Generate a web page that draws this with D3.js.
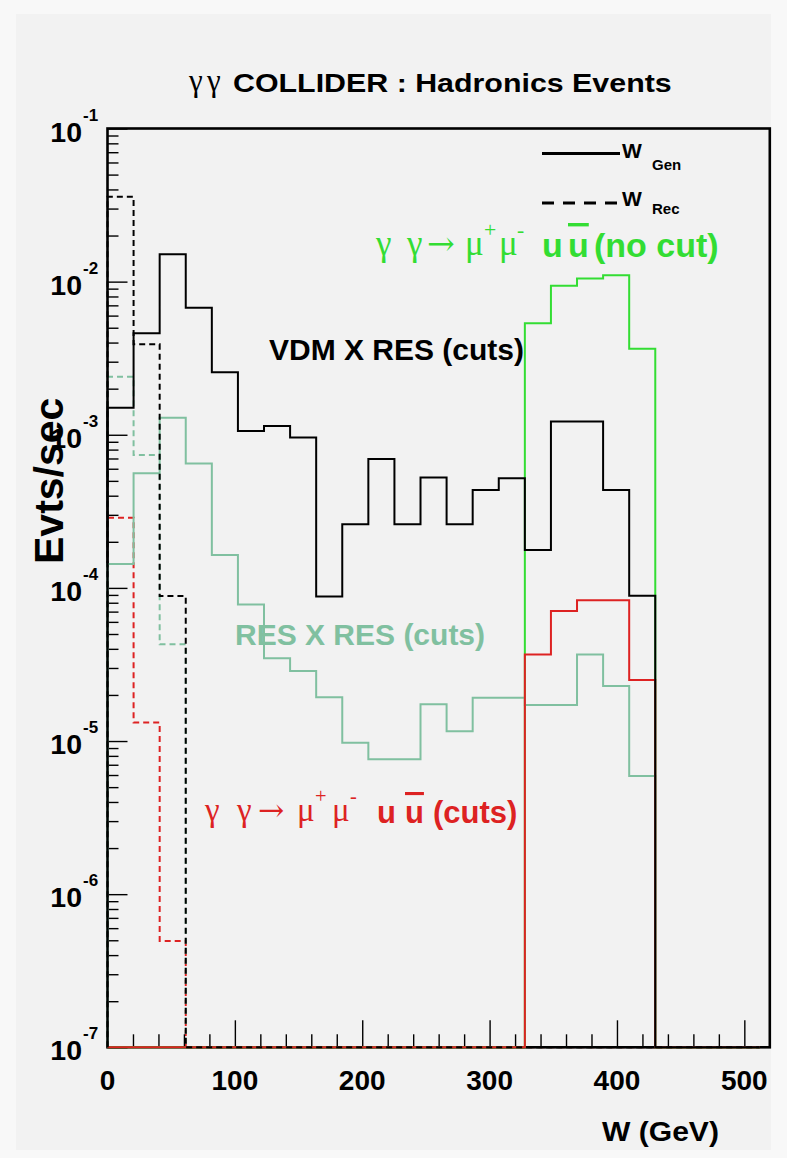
<!DOCTYPE html>
<html>
<head>
<meta charset="utf-8">
<script src="https://cdn.jsdelivr.net/npm/d3@7"></script>
<style>
  html, body { margin: 0; padding: 0; background: #f8f8f8; }
  svg { display: block; }
</style>
</head>
<body>
<svg id="chart" width="787" height="1158"></svg>
<script>
// Histogram bin edges in W (GeV): 25 bins over 0-512
const binEdges = [0, 20.48, 40.96, 61.44, 81.92, 102.4, 122.88, 143.36, 163.84, 184.32,
                  204.8, 225.28, 245.76, 266.24, 286.72, 307.2, 327.68, 348.16, 368.64,
                  389.12, 409.6, 430.08, 450.56, 471.04, 491.52, 512];

// Event rates (Evts/sec) per bin, generated W
const vdmResGen = [1.50e-3, 4.6e-3, 1.51e-2, 6.76e-3, 2.56e-3, 1.06e-3, 1.14e-3, 9.6e-4,
                   8.8e-5, 2.6e-4, 6.95e-4, 2.6e-4, 5.25e-4, 2.6e-4, 4.36e-4, 5.2e-4,
                   1.77e-4, 1.22e-3, 1.22e-3, 4.36e-4, 8.9e-5, 0, 0, 0, 0];
const resResGen = [1.43e-4, 5.6e-4, 1.29e-3, 6.5e-4, 1.64e-4, 7.8e-5, 3.47e-5, 2.87e-5,
                   1.93e-5, 9.75e-6, 7.6e-6, 7.6e-6, 1.74e-5, 1.16e-5, 1.92e-5, 1.92e-5,
                   1.72e-5, 1.72e-5, 3.68e-5, 2.29e-5, 5.9e-6, 0, 0, 0, 0];
const mumuNoCutGen = [0, 0, 0, 0, 0, 0, 0, 0, 0, 0, 0, 0, 0, 0, 0, 0,
                      5.34e-3, 9.4e-3, 1.05e-2, 1.10e-2, 3.65e-3, 0, 0, 0, 0];
const mumuCutsGen = [0, 0, 0, 0, 0, 0, 0, 0, 0, 0, 0, 0, 0, 0, 0, 0,
                     3.68e-5, 7.06e-5, 8.3e-5, 8.3e-5, 2.5e-5, 0, 0, 0, 0];

// Event rates per bin, reconstructed W
const vdmResRec = [3.59e-2, 3.90e-3, 8.85e-5, 0, 0, 0, 0, 0, 0, 0, 0, 0, 0,
                   0, 0, 0, 0, 0, 0, 0, 0, 0, 0, 0, 0];
const resResRec = [2.39e-3, 7.38e-4, 4.28e-5, 0, 0, 0, 0, 0, 0, 0, 0, 0, 0,
                   0, 0, 0, 0, 0, 0, 0, 0, 0, 0, 0, 0];
const mumuCutsRec = [2.87e-4, 1.32e-5, 4.94e-7, 0, 0, 0, 0, 0, 0, 0, 0, 0, 0,
                     0, 0, 0, 0, 0, 0, 0, 0, 0, 0, 0, 0];

// Axis ticks
const xMajorTicks = [0, 100, 200, 300, 400, 500];
const xMinorTicks = [20, 40, 60, 80, 120, 140, 160, 180, 220, 240, 260, 280,
                     320, 340, 360, 380, 420, 440, 460, 480];
const xTickLabels = ["0", "100", "200", "300", "400", "500"];
const yDecadeExponents = [-1, -2, -3, -4, -5, -6, -7];
const yMinorMantissas = [2, 3, 4, 5, 6, 7, 8, 9];

const SANS = "'Liberation Sans', Arial, Helvetica, sans-serif";
const SERIF = "'Liberation Serif', 'Times New Roman', serif";
const ARROWFONT = "'DejaVu Serif', 'DejaVu Sans', serif";
const GREEN = "#33dd33", RED = "#dd2222", SEA = "#80c0a0";

const svg = d3.select("#chart");

// canvas and pad
svg.append("rect").attr("x", 0).attr("y", 0).attr("width", 787).attr("height", 1158).attr("fill", "#f8f8f8");
svg.append("rect").attr("x", 16).attr("y", 14).attr("width", 755).attr("height", 1136).attr("fill", "#f2f2f2");

const frame = { left: 107.5, right: 769.8, top: 128.5, bottom: 1047.3 };
const yMin = 1e-7, yMax = 1e-1;
const x = d3.scaleLinear().domain([0, 520]).range([frame.left, frame.right]);
const y = d3.scaleLog().domain([yMin, yMax]).range([frame.bottom, frame.top]);

// Step outline of a histogram; empty bins sit on the lower edge of the frame
const stepLine = d3.line()
  .x(d => x(d[0]))
  .y(d => y(d[1] > 0 ? d[1] : yMin))
  .curve(d3.curveStepAfter);

function histPoints(values) {
  const pts = [[binEdges[0], 0]];
  values.forEach((v, i) => pts.push([binEdges[i], v]));
  const last = binEdges[binEdges.length - 1];
  pts.push([last, values[values.length - 1]]);
  pts.push([last, 0]);
  return pts;
}

function drawHist(values, color, dashed) {
  svg.append("path")
    .attr("d", stepLine(histPoints(values)))
    .attr("fill", "none")
    .attr("stroke", color)
    .attr("stroke-width", 2)
    .attr("stroke-dasharray", dashed ? "6,4" : null);
}

// reconstructed-W curves that lie under the frame
drawHist(mumuCutsRec, RED, true);
drawHist(resResRec, SEA, true);

// axis ticks
const gx = svg.append("g").attr("transform", `translate(0,${frame.bottom})`);
gx.append("g").call(d3.axisBottom(x).tickValues(xMajorTicks).tickSize(-27).tickFormat(""));
gx.append("g").call(d3.axisBottom(x).tickValues(xMinorTicks).tickSize(-13).tickFormat(""));
gx.selectAll(".domain").remove();

const majorY = yDecadeExponents.map(e => Math.pow(10, e));
const minorY = [];
yDecadeExponents.slice(1).forEach(e => yMinorMantissas.forEach(m => minorY.push(m * Math.pow(10, e))));
const gy = svg.append("g").attr("transform", `translate(${frame.left},0)`);
gy.append("g").call(d3.axisLeft(y).tickValues(majorY).tickSize(-20).tickFormat(""));
gy.append("g").call(d3.axisLeft(y).tickValues(minorY).tickSize(-11).tickFormat(""));
gy.selectAll(".domain").remove();
svg.selectAll(".tick line").attr("stroke", "#000").attr("stroke-width", 1.4);

// frame
svg.append("rect")
  .attr("x", frame.left).attr("y", frame.top)
  .attr("width", frame.right - frame.left).attr("height", frame.bottom - frame.top)
  .attr("fill", "none").attr("stroke", "#000").attr("stroke-width", 2.6);

// generated-W curves and the remaining reconstructed one
drawHist(mumuNoCutGen, GREEN, false);
drawHist(resResGen, SEA, false);
drawHist(mumuCutsGen, RED, false);
drawHist(vdmResGen, "#000", false);
drawHist(vdmResRec, "#000", true);

// x tick labels
svg.append("g").selectAll("text").data(xMajorTicks).join("text")
  .attr("x", d => x(d)).attr("y", 1090)
  .attr("text-anchor", "middle")
  .attr("font-family", SANS).attr("font-weight", "bold").attr("font-size", 28)
  .text((d, i) => xTickLabels[i]);

// y tick labels: 10 with superscript exponent
const yl = svg.append("g").selectAll("g").data(yDecadeExponents).join("g");
yl.append("text")
  .attr("x", 82).attr("y", e => y(Math.pow(10, e)) + 13)
  .attr("text-anchor", "end")
  .attr("font-family", SANS).attr("font-weight", "bold").attr("font-size", 28.5)
  .text("10");
yl.append("text")
  .attr("x", 83).attr("y", e => y(Math.pow(10, e)) - 8)
  .attr("font-family", SANS).attr("font-weight", "bold").attr("font-size", 17)
  .text(e => String(e));

// stretch a text element horizontally so it spans a given width from x0
function fitWidth(sel, x0, width) {
  const w = sel.node().getBBox().width;
  sel.attr("transform", `translate(${x0},0) scale(${width / w},1) translate(${-x0},0)`);
}

// y axis title
svg.append("text")
  .attr("transform", "translate(63,564) rotate(-90)")
  .attr("font-family", SANS).attr("font-weight", "bold").attr("font-size", 41)
  .text("Evts/sec");

// x axis title
const xTitle = svg.append("text")
  .attr("x", 602).attr("y", 1141)
  .attr("font-family", SANS).attr("font-weight", "bold").attr("font-size", 28)
  .text("W (GeV)");
fitWidth(xTitle, 602, 117);

// title
svg.append("text").attr("x", 189).attr("y", 91)
  .attr("font-family", SERIF).attr("font-size", 31).text("γ");
svg.append("text").attr("x", 207).attr("y", 91)
  .attr("font-family", SERIF).attr("font-size", 31).text("γ");
const title = svg.append("text").attr("x", 233).attr("y", 92)
  .attr("font-family", SANS).attr("font-weight", "bold").attr("font-size", 25.5)
  .text("COLLIDER : Hadronics Events");
fitWidth(title, 233, 439);

// legend
svg.append("line").attr("x1", 542).attr("x2", 620).attr("y1", 153.5).attr("y2", 153.5)
  .attr("stroke", "#000").attr("stroke-width", 3);
svg.append("line").attr("x1", 542).attr("x2", 618).attr("y1", 203).attr("y2", 203)
  .attr("stroke", "#000").attr("stroke-width", 3).attr("stroke-dasharray", "12,9");
[["Gen", 158, 170], ["Rec", 206, 213.5]].forEach(([sub, yb, ys]) => {
  svg.append("text").attr("x", 622).attr("y", yb)
    .attr("font-family", SANS).attr("font-weight", "bold").attr("font-size", 21).text("W");
  svg.append("text").attr("x", 652).attr("y", ys)
    .attr("font-family", SANS).attr("font-weight", "bold").attr("font-size", 15).text(sub);
});

// labels mixing a serif process part and a bold sans part
function processLabel(x0, baseline, color, serifSize, sansSize, offsets, tail) {
  const g = svg.append("g").attr("fill", color);
  // [text, kind]: s = serif symbol, a = arrow, p = superscript, b = bold sans
  const pieces = [["γ", "s"], ["γ", "s"], ["→", "a"], ["μ", "s"], ["+", "p"],
                  ["μ", "s"], ["-", "p"], ["u", "b"], ["u", "b"], [tail, "b"]];
  pieces.forEach(([t, kind], i) => {
    const el = g.append("text").attr("x", x0 + offsets[i]).text(t);
    if (kind === "s") {
      el.attr("y", baseline - 2).attr("font-family", SERIF).attr("font-size", serifSize);
    } else if (kind === "a") {
      el.attr("y", baseline - 2).attr("font-family", ARROWFONT).attr("font-size", serifSize * 0.95);
    } else if (kind === "p") {
      el.attr("y", baseline - 20).attr("font-family", SERIF).attr("font-size", serifSize * 0.62);
    } else {
      el.attr("y", baseline).attr("font-family", SANS).attr("font-weight", "bold").attr("font-size", sansSize);
    }
    if (i === 8) el.attr("text-decoration", "overline");
  });
}

processLabel(376, 257, GREEN, 35, 34,
  [0, 31, 51, 89, 108, 123, 141, 166, 192, 218], "(no cut)");
processLabel(205, 823, RED, 33, 31,
  [0, 32, 53, 92, 110, 127, 145, 172, 200, 228], "(cuts)");

svg.append("text").attr("x", 269).attr("y", 360)
  .attr("font-family", SANS).attr("font-weight", "bold").attr("font-size", 30)
  .attr("fill", "#000").text("VDM X RES (cuts)");
svg.append("text").attr("x", 235).attr("y", 645)
  .attr("font-family", SANS).attr("font-weight", "bold").attr("font-size", 30)
  .attr("fill", SEA).text("RES X RES (cuts)");
</script>
</body>
</html>
